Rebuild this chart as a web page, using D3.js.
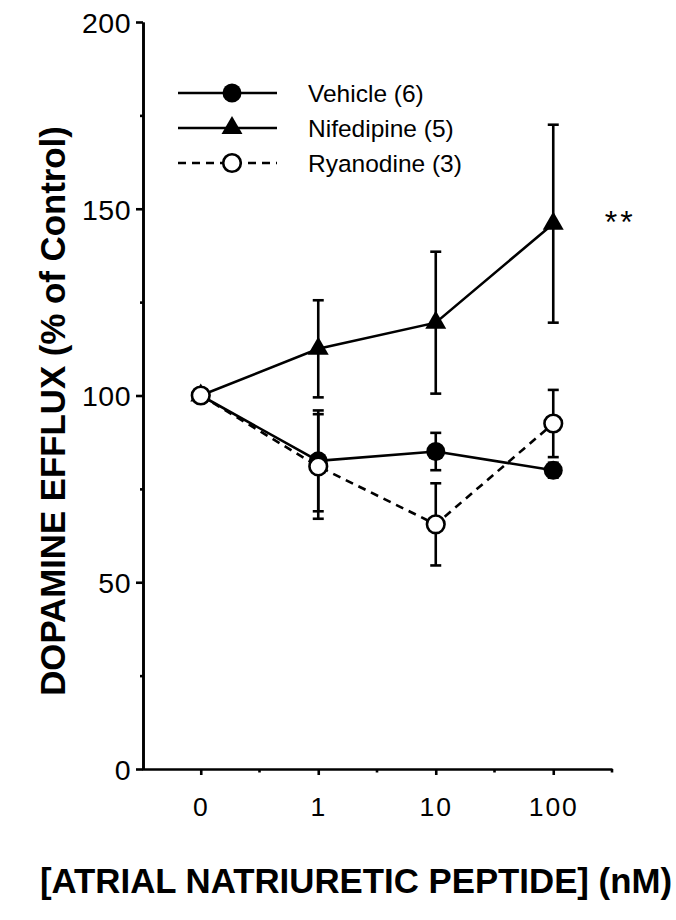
<!DOCTYPE html>
<html>
<head>
<meta charset="utf-8">
<script src="https://cdn.jsdelivr.net/npm/d3@7"></script>
<style>
  html, body { margin: 0; padding: 0; background: #fff; }
  svg { display: block; }
  text { font-family: "Liberation Sans", Arial, Helvetica, sans-serif; fill: #000; }
</style>
</head>
<body>
<svg id="chart" width="676" height="920"></svg>
<script>
// ANP dose levels (nM) and dopamine efflux, % of control (mean and SEM)
const doses = ["0", "1", "10", "100"];
const vehicleMean = [100, 82.5, 85, 80];
const vehicleSE = [0, 13.5, 5, 2];
const nifedipineMean = [100, 112.5, 119.5, 146];
const nifedipineSE = [0, 13, 19, 26.5];
const ryanodineMean = [100, 81, 65.5, 92.5];
const ryanodineSE = [0, 14, 11, 9];
const yMajorTicks = [0, 50, 100, 150, 200];
const yMinorTicks = [25, 75, 125, 175];
const legendLabels = ["Vehicle (6)", "Nifedipine (5)", "Ryanodine (3)"];
const yTitle = "DOPAMINE EFFLUX (% of Control)";
const xTitle = "[ATRIAL NATRIURETIC PEPTIDE] (nM)";
const significance = "**";

const svg = d3.select("#chart");

const x = d3.scalePoint().domain(doses).range([142, 612]).padding(0.5);
const y = d3.scaleLinear().domain([0, 200]).range([769, 22]);

const series = [
  { name: legendLabels[0], mean: vehicleMean, se: vehicleSE, shape: "circle", fill: "#000", dash: null },
  { name: legendLabels[1], mean: nifedipineMean, se: nifedipineSE, shape: "triangle", fill: "#000", dash: null },
  { name: legendLabels[2], mean: ryanodineMean, se: ryanodineSE, shape: "circle", fill: "#fff", dash: "8,6" }
];

const sw = 2.6;

// ---- Y axis ----
const yAxisG = svg.append("g").attr("transform", `translate(${x.range()[0] + 1},0)`);
yAxisG.call(d3.axisLeft(y).tickValues(yMajorTicks).tickSize(7).tickSizeOuter(0).tickPadding(5));
yAxisG.append("g").call(d3.axisLeft(y).tickValues(yMinorTicks).tickSize(3).tickSizeOuter(0).tickFormat(""));
yAxisG.selectAll("path.domain").attr("stroke-width", sw);
yAxisG.selectAll("line").attr("stroke-width", sw);
yAxisG.selectAll("text").attr("font-size", 28.5).attr("dy", "0.36em").attr("letter-spacing", 0.5);

// ---- X axis ----
const xAxisG = svg.append("g").attr("transform", `translate(0,${y(0)})`);
xAxisG.call(d3.axisBottom(x).tickSize(6).tickSizeOuter(0).tickPadding(22));
xAxisG.selectAll("path.domain").attr("stroke-width", sw);
xAxisG.selectAll("line").attr("stroke-width", sw);
xAxisG.selectAll("text").attr("font-size", 26.5).attr("dy", "0.71em").attr("letter-spacing", 2);
// minor ticks half-way between dose levels and at the right end
const half = x.step() / 2;
const minorX = doses.map(d => x(d) + half);
xAxisG.selectAll("line.minor").data(minorX).join("line")
  .attr("class", "minor")
  .attr("x1", d => d).attr("x2", d => d)
  .attr("y1", 0).attr("y2", 3.5)
  .attr("stroke", "#000").attr("stroke-width", sw);

// ---- Axis titles ----
svg.append("text")
  .attr("transform", `translate(65,411) rotate(-90)`)
  .attr("text-anchor", "middle")
  .attr("font-size", 34.8)
  .attr("font-weight", "bold")
  .text(yTitle);

svg.append("text")
  .attr("x", 356)
  .attr("y", 893)
  .attr("text-anchor", "middle")
  .attr("font-size", 34.8)
  .attr("font-weight", "bold")
  .text(xTitle);

// ---- Data ----
const plot = svg.append("g");
const lineGen = d3.line().x((d, i) => x(doses[i])).y(d => y(d));

function marker(g, s, cx, cy) {
  if (s.shape === "triangle") {
    g.append("path")
      .attr("d", d3.symbol(d3.symbolTriangle, 190)())
      .attr("transform", `translate(${cx},${cy})`)
      .attr("fill", "#000");
  } else {
    g.append("circle")
      .attr("cx", cx).attr("cy", cy)
      .attr("r", s.fill === "#000" ? 9.5 : 8.8)
      .attr("fill", s.fill)
      .attr("stroke", "#000")
      .attr("stroke-width", s.fill === "#000" ? 0 : sw);
  }
}

// connecting lines
series.forEach(s => {
  plot.append("path")
    .datum(s.mean)
    .attr("d", lineGen)
    .attr("fill", "none")
    .attr("stroke", "#000")
    .attr("stroke-width", sw)
    .attr("stroke-dasharray", s.dash);
});

// error bars
const capW = 5.5;
series.forEach(s => {
  s.mean.forEach((m, i) => {
    if (!s.se[i]) return;
    const cx = x(doses[i]);
    const y1 = y(m + s.se[i]), y2 = y(m - s.se[i]);
    plot.append("line").attr("x1", cx).attr("x2", cx).attr("y1", y1).attr("y2", y2)
      .attr("stroke", "#000").attr("stroke-width", sw);
    [y1, y2].forEach(yy => {
      plot.append("line").attr("x1", cx - capW).attr("x2", cx + capW).attr("y1", yy).attr("y2", yy)
        .attr("stroke", "#000").attr("stroke-width", sw);
    });
  });
});

// markers: filled first, open circles on top
[series[1], series[0], series[2]].forEach(s => {
  s.mean.forEach((m, i) => marker(plot, s, x(doses[i]), y(m)));
});

// significance mark next to the highest nifedipine dose
svg.append("text")
  .attr("x", x("100") + 67)
  .attr("y", y(nifedipineMean[3]) + 9)
  .attr("text-anchor", "middle")
  .attr("font-size", 32)
  .attr("letter-spacing", 3)
  .text(significance);

// ---- Legend ----
const legend = svg.append("g");
const rowY = [93, 128, 163];
series.forEach((s, i) => {
  const g = legend.append("g");
  g.append("line")
    .attr("x1", 178).attr("x2", 277)
    .attr("y1", rowY[i]).attr("y2", rowY[i])
    .attr("stroke", "#000").attr("stroke-width", sw)
    .attr("stroke-dasharray", s.dash);
  marker(g, s, 232, rowY[i]);
  g.append("text")
    .attr("x", 308).attr("y", rowY[i])
    .attr("dy", "0.36em")
    .attr("font-size", 24.5)
    .text(s.name);
});
</script>
</body>
</html>
